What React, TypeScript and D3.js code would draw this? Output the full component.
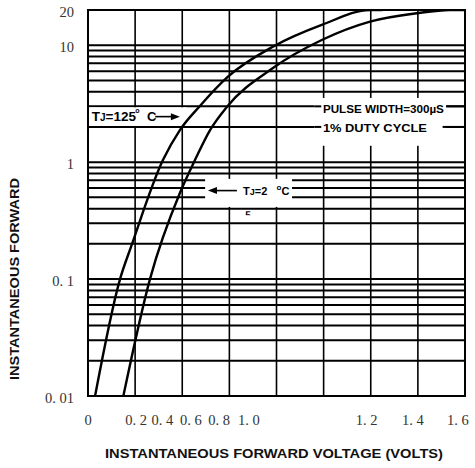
import React from "react";
import * as d3 from "d3";

// ---- data ----
const xGridValues = [0, 0.2, 0.4, 0.6, 0.8, 1.0, 1.2, 1.4, 1.6];
const xTickLabels = ["0", "0. 2", "0. 4", "0. 6", "0. 8", "1. 0", "1. 2", "1. 4", "1. 6"];
const xTickLabelAt = [0, 0.204, 0.316, 0.437, 0.556, 0.683, 1.183, 1.379, 1.57];
const yTickValues = [20, 10, 1, 0.1, 0.01];
const yTickLabels = ["20", "10", "1", "0. 1", "0. 01"];
const yDecades = [0.01, 0.1, 1];
const yMultipliers = [1, 2, 3, 4, 5, 6, 7, 8, 9];

// TJ = 125 °C curve (volts, amps)
const hotV = [0.03, 0.136, 0.1855, 0.318, 0.39, 0.475, 0.594, 0.785, 0.992, 1.197, 1.25];
const hotI = [0.01, 0.1, 0.196, 1.043, 1.88, 3.02, 5.38, 9.71, 14.9, 20, 20];
// TJ = 25 °C curve
const coldV = [0.15, 0.263, 0.39, 0.454, 0.518, 0.59, 0.785, 0.992, 1.197, 1.395, 1.536, 1.6];
const coldI = [0.01, 0.1, 0.545, 1.043, 1.88, 2.98, 6.38, 11.07, 15.9, 18.74, 20, 20];

const W = 475;
const H = 468;
const M = { left: 88, top: 10, right: 10, bottom: 72 };

export default function App() {
  const x = d3.scaleLinear().domain([0, 1.6]).range([M.left, W - M.right]);
  const y = d3.scaleLog().domain([0.01, 20]).range([H - M.bottom, M.top]);

  const hGrid: number[] = [];
  yDecades.forEach((d) => yMultipliers.forEach((k) => hGrid.push(+(k * d).toPrecision(3))));
  hGrid.push(10);

  const line = d3
    .line<[number, number]>()
    .x((p) => x(p[0]))
    .y((p) => y(p[1]))
    .curve(d3.curveMonotoneX);

  const hot = hotV.map((v, i) => [v, hotI[i]] as [number, number]);
  const cold = coldV.map((v, i) => [v, coldI[i]] as [number, number]);

  const sans = "'Liberation Sans', Arial, sans-serif";
  const serif = "'Liberation Serif', 'DejaVu Serif', serif";

  // white label boxes in data units
  const boxes = [
    { v0: 0.004, v1: 0.42, i0: 2, i1: 3 },
    { v0: 0.96, v1: 1.52, i0: 1.38, i1: 3.54 },
    { v0: 0.497, v1: 0.866, i0: 0.414, i1: 0.719 },
  ];

  const arrowHead = (tipX: number, tipY: number, dir: number) =>
    `M${tipX},${tipY} L${tipX - dir * 9},${tipY - 3.5} L${tipX - dir * 9},${tipY + 3.5} Z`;

  const yA125 = y(2.45);
  const yA25 = y(0.571);

  return (
    <svg width={W} height={H} style={{ position: "absolute", left: 0, top: 0, background: "#fff" }}>
      <defs>
        <clipPath id="plot">
          <rect x={M.left} y={M.top} width={W - M.left - M.right} height={H - M.top - M.bottom} />
        </clipPath>
        <clipPath id="cut5">
          <rect x={x(0.66)} y={y(0.38)} width={10} height={4} />
        </clipPath>
      </defs>

      {/* vertical grid */}
      {xGridValues.map((v) => (
        <line key={"v" + v} x1={x(v)} x2={x(v)} y1={y(20)} y2={y(0.01)} stroke="#000" strokeWidth={1.6} />
      ))}
      {/* horizontal grid */}
      {hGrid.map((v) => (
        <line key={"h" + v} x1={x(0)} x2={x(1.6)} y1={y(v)} y2={y(v)} stroke="#000" strokeWidth={2} />
      ))}

      {/* label masks */}
      {boxes.map((b, i) => (
        <rect key={"b" + i} x={x(b.v0)} y={y(b.i1) + (i === 0 ? 1 : 0)} width={x(b.v1) - x(b.v0)}
          height={y(b.i0) - y(b.i1) - (i === 0 ? 2 : 0)} fill="#fff" />
      ))}
      {/* grid line stubs around the pulse text */}
      {[3, 2].map((v) => (
        <line key={"p" + v} x1={x(0.96)} x2={x(0.99)} y1={y(v)} y2={y(v)} stroke="#000" strokeWidth={2} />
      ))}
      <line x1={x(1.52)} x2={x(1.6)} y1={y(3)} y2={y(3)} stroke="#000" strokeWidth={2} />
      <line x1={x(1.505)} x2={x(1.6)} y1={y(2)} y2={y(2)} stroke="#000" strokeWidth={2} />

      {/* frame */}
      <rect x={x(0)} y={y(20)} width={x(1.6) - x(0)} height={y(0.01) - y(20)} fill="none" stroke="#000" strokeWidth={2} />

      {/* curves */}
      <g clipPath="url(#plot)">
        <path d={line(hot) || ""} fill="none" stroke="#000" strokeWidth={2.4} />
        <path d={line(cold) || ""} fill="none" stroke="#000" strokeWidth={2.4} />
      </g>

      {/* TJ=125 label */}
      <text x={x(0.016)} y={yA125 + 4.8} fontFamily={sans} fontWeight="bold" fontSize={13.5} fill="#000">
        T<tspan fontSize={10}>J</tspan>=125
      </text>
      <text x={x(0.2)} y={yA125 - 3.5} fontFamily={sans} fontWeight="bold" fontSize={7} fill="#000">o</text>
      <text x={x(0.25)} y={yA125 + 4.8} fontFamily={sans} fontWeight="bold" fontSize={13} fill="#000">C</text>
      <line x1={x(0.285)} x2={x(0.36)} y1={yA125} y2={yA125} stroke="#000" strokeWidth={1.6} />
      <path d={arrowHead(x(0.39), yA125, 1)} fill="#000" />

      {/* TJ=25 label */}
      <line x1={x(0.54)} x2={x(0.632)} y1={yA25} y2={yA25} stroke="#000" strokeWidth={1.6} />
      <path d={arrowHead(x(0.509), yA25, -1)} fill="#000" />
      <text x={x(0.658)} y={yA25 + 4} fontFamily={sans} fontWeight="bold" fontSize={11} fill="#000">
        T<tspan fontSize={9}>J</tspan>=2
      </text>
      <text x={x(0.80)} y={yA25 + 4} fontFamily={sans} fontWeight="bold" fontSize={11} fill="#000">
        <tspan dy={-5} fontSize={8}>o</tspan><tspan dy={5}>C</tspan>
      </text>
      <text x={x(0.667)} y={y(0.38) + 8} fontFamily={sans} fontWeight="bold" fontSize={10} fill="#000" clipPath="url(#cut5)">
        5
      </text>

      {/* pulse labels */}
      <text x={x(0.997)} y={y(2.83) + 3.8} fontFamily={sans} fontWeight="bold" fontSize={10.5} fill="#000"
        textLength={121} lengthAdjust="spacingAndGlyphs">
        PULSE WIDTH=300µS
      </text>
      <text x={x(0.997)} y={y(1.95) + 3.8} fontFamily={sans} fontWeight="bold" fontSize={10.5} fill="#000"
        textLength={104} lengthAdjust="spacingAndGlyphs">
        1% DUTY CYCLE
      </text>

      {/* y tick labels */}
      {yTickValues.map((v, i) => (
        <text key={"yt" + v} x={74} y={y(v) + 2} textAnchor="end" dominantBaseline="central"
          fontFamily={serif} fontSize={14.5} fill="#333">
          {yTickLabels[i]}
        </text>
      ))}
      {/* x tick labels */}
      {xTickLabels.map((t, i) => (
        <text key={"xt" + i} x={x(xTickLabelAt[i])} y={425} textAnchor="middle"
          fontFamily={serif} fontSize={14.5} fill="#333">
          {t}
        </text>
      ))}

      {/* axis titles */}
      <text x={274} y={458} textAnchor="middle" fontFamily={sans} fontWeight="bold" fontSize={13}
        fill="#111" textLength={338} lengthAdjust="spacingAndGlyphs">
        INSTANTANEOUS FORWARD VOLTAGE (VOLTS)
      </text>
      <text transform={`translate(18.5, 279) rotate(-90)`} textAnchor="middle" fontFamily={sans} fontWeight="bold"
        fontSize={12} fill="#111" textLength={202} lengthAdjust="spacingAndGlyphs">
        INSTANTANEOUS FORWARD
      </text>
    </svg>
  );
}
